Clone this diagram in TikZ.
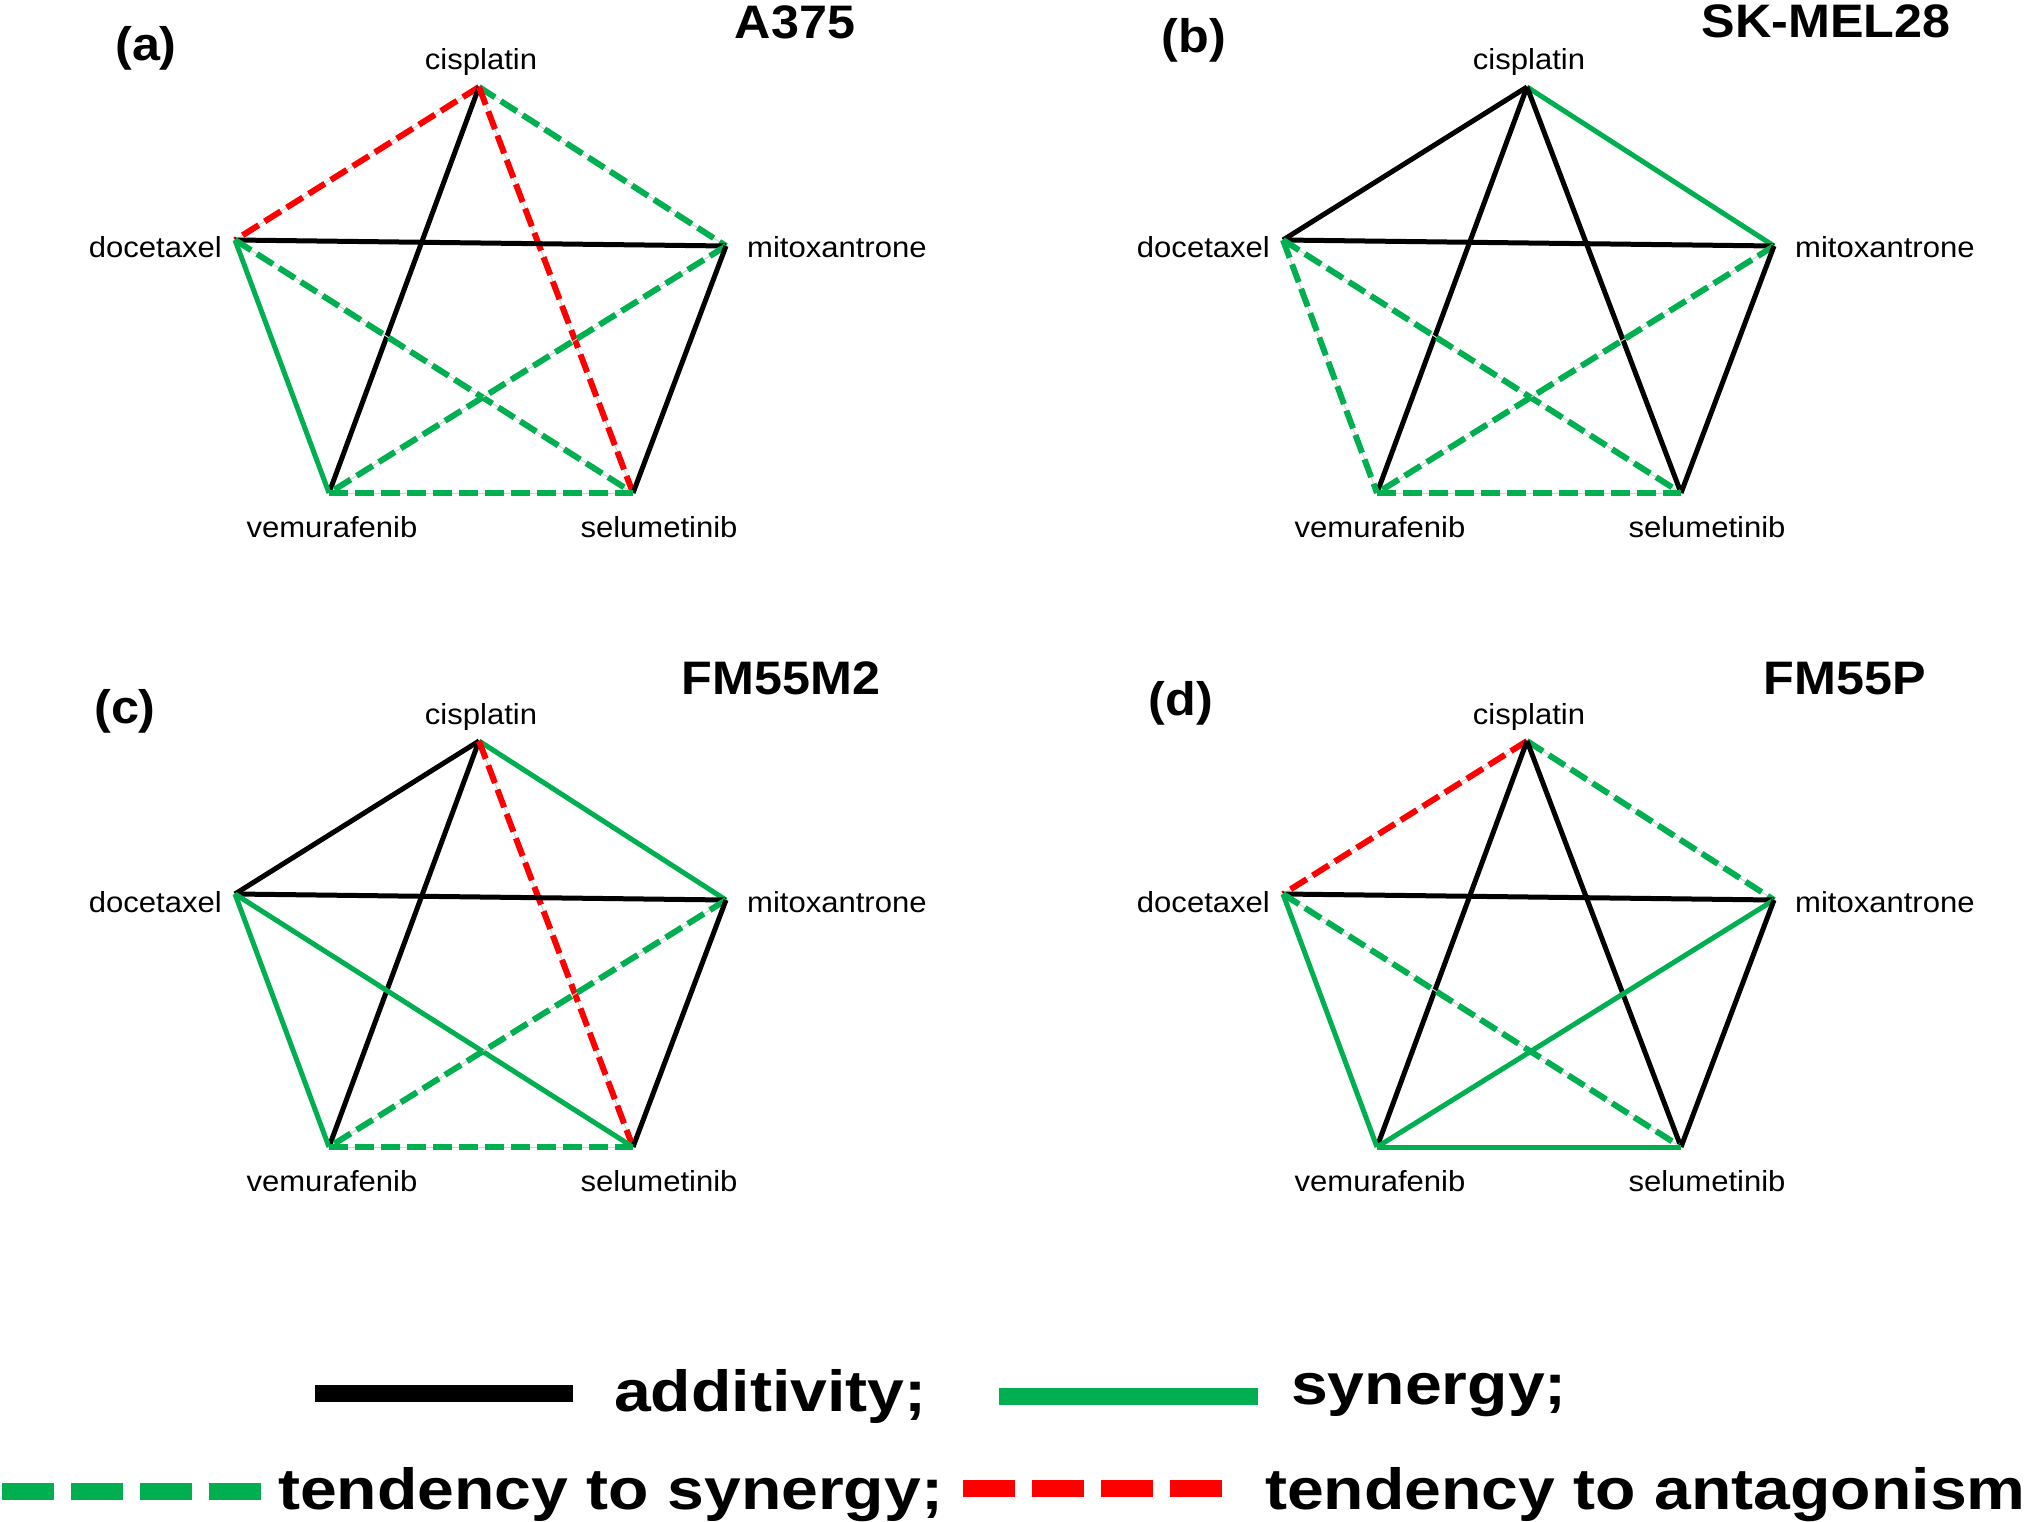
\documentclass[tikz,border=0pt]{standalone}
\usepackage{fontspec}
\setmainfont{Liberation Sans}[FakeStretch=1.07]
\newfontfamily\legendfont{Liberation Sans}[FakeStretch=1.14]
\usepackage{tikz}
\usetikzlibrary{positioning}
\definecolor{syngreen}{HTML}{00B050}
\definecolor{antred}{HTML}{FF0000}

\begin{document}
\begin{tikzpicture}[
    x=1pt, y=-1pt,
    drug/.style={font=\fontsize{29}{29}\selectfont, inner sep=0pt},
    cell/.style={font=\bfseries\fontsize{47}{47}\selectfont, inner sep=0pt, anchor=base},
    legtxt/.style={font=\legendfont\bfseries\fontsize{58}{58}\selectfont, inner sep=0pt, anchor=base west},
    add/.style={black, line width=5pt},
    syn/.style={syngreen, line width=5pt},
    tsyn/.style={syngreen, line width=6pt, dash pattern=on 19pt off 7pt,
        preaction={draw=gray!35, line width=1pt, solid}},
    tant/.style={antred, line width=6pt, dash pattern=on 19pt off 7pt,
        preaction={draw=gray!35, line width=1pt, solid}},
    legline/.style={line width=17pt},
    legdash/.style={line width=17pt, dash pattern=on 52pt off 17pt}
]
    \useasboundingbox (0,0) rectangle (2030,1522);
    \fill[white] (0,0) rectangle (2030,1522);

    % --- Pentagon corners and drug names, same in every panel ---
    \foreach \p/\dx/\dy in {a/0/0, b/1048/0, c/0/654, d/1048/654} {
        \begin{scope}[shift={(\dx,\dy)}]
            \coordinate (\p-cis) at (479,87);
            \coordinate (\p-doc) at (235,240);
            \coordinate (\p-mito) at (726,246);
            \coordinate (\p-vem) at (329,493);
            \coordinate (\p-sel) at (633,493);
            \node[drug, anchor=base] (\p-cisl) at (481,70) {cisplatin};
            \node[drug, anchor=base east] (\p-docl) at (222,258) {docetaxel};
            \node[drug, anchor=base west] (\p-mitol) at (747,258) {mitoxantrone};
            \node[drug, anchor=base] (\p-veml) at (332,537) {vemurafenib};
            \node[drug, anchor=base] (\p-sell) at (659,537) {selumetinib};
        \end{scope}
    }

    % --- Panel titles ---
    \node[cell] (a-tag) at (146,61) {(a)};
    \node[cell] (a-name) at (795,39) {A375};
    \node[cell] (b-tag) at (1194,53) {(b)};
    \node[cell] (b-name) at (1826,38) {SK-MEL28};
    \node[cell] (c-tag) at (125,723) {(c)};
    \node[cell] (c-name) at (781,694) {FM55M2};
    \node[cell] (d-tag) at (1181,715) {(d)};
    \node[cell] (d-name) at (1845,694) {FM55P};

    % --- (a) A375 ---
    \draw[tant] (a-cis) -- (a-doc);
    \draw[tsyn] (a-cis) -- (a-mito);
    \draw[add] (a-cis) -- (a-vem);
    \draw[tant] (a-cis) -- (a-sel);
    \draw[add] (a-doc) -- (a-mito);
    \draw[syn] (a-doc) -- (a-vem);
    \draw[tsyn] (a-doc) -- (a-sel);
    \draw[tsyn] (a-mito) -- (a-vem);
    \draw[add] (a-mito) -- (a-sel);
    \draw[tsyn] (a-vem) -- (a-sel);

    % --- (b) SK-MEL28 ---
    \draw[add] (b-cis) -- (b-doc);
    \draw[syn] (b-cis) -- (b-mito);
    \draw[add] (b-cis) -- (b-vem);
    \draw[add] (b-cis) -- (b-sel);
    \draw[add] (b-doc) -- (b-mito);
    \draw[tsyn] (b-doc) -- (b-vem);
    \draw[tsyn] (b-doc) -- (b-sel);
    \draw[tsyn] (b-mito) -- (b-vem);
    \draw[add] (b-mito) -- (b-sel);
    \draw[tsyn] (b-vem) -- (b-sel);

    % --- (c) FM55M2 ---
    \draw[add] (c-cis) -- (c-doc);
    \draw[syn] (c-cis) -- (c-mito);
    \draw[add] (c-cis) -- (c-vem);
    \draw[tant] (c-cis) -- (c-sel);
    \draw[add] (c-doc) -- (c-mito);
    \draw[syn] (c-doc) -- (c-vem);
    \draw[syn] (c-doc) -- (c-sel);
    \draw[tsyn] (c-mito) -- (c-vem);
    \draw[add] (c-mito) -- (c-sel);
    \draw[tsyn] (c-vem) -- (c-sel);

    % --- (d) FM55P ---
    \draw[tant] (d-cis) -- (d-doc);
    \draw[tsyn] (d-cis) -- (d-mito);
    \draw[add] (d-cis) -- (d-vem);
    \draw[add] (d-cis) -- (d-sel);
    \draw[add] (d-doc) -- (d-mito);
    \draw[syn] (d-doc) -- (d-vem);
    \draw[tsyn] (d-doc) -- (d-sel);
    \draw[syn] (d-mito) -- (d-vem);
    \draw[add] (d-mito) -- (d-sel);
    \draw[syn] (d-vem) -- (d-sel);

    % --- Legend ---
    \coordinate (add-l) at (315,1393);
    \coordinate (add-r) at (573,1393);
    \node[legtxt] (add-t) at (614,1411) {additivity;};
    \coordinate (syn-l) at (999,1396);
    \coordinate (syn-r) at (1258,1396);
    \node[legtxt] (syn-t) at (1291,1404) {synergy;};
    \coordinate (tsyn-l) at (2,1491);
    \coordinate (tsyn-r) at (261,1491);
    \node[legtxt] (tsyn-t) at (278,1509) {tendency to synergy;};
    \coordinate (tant-l) at (963,1488);
    \coordinate (tant-r) at (1222,1488);
    \node[legtxt] (tant-t) at (1265,1509) {tendency to antagonism};
    \draw[legline, black] (add-l) -- (add-r);
    \draw[legline, syngreen] (syn-l) -- (syn-r);
    \draw[legdash, syngreen] (tsyn-l) -- (tsyn-r);
    \draw[legdash, antred] (tant-l) -- (tant-r);
\end{tikzpicture}
\end{document}
